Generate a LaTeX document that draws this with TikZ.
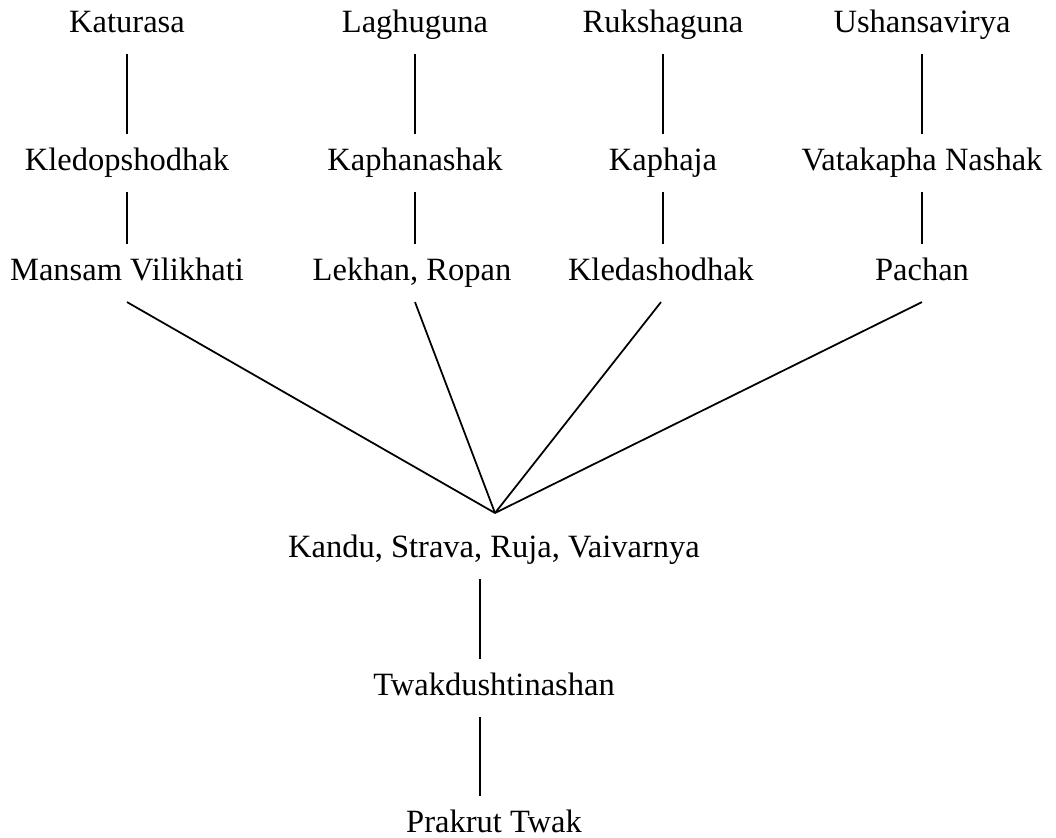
\documentclass[tikz,border=0pt]{standalone}
\usepackage{fontspec}
\setmainfont{Liberation Serif}

\begin{document}
\begin{tikzpicture}[x=0.02cm, y=-0.02cm,
	lbl/.style={font=\fontsize{18.5}{22}\selectfont, text height=12.9pt, text depth=4.6pt, inner xsep=2pt, inner ysep=7.6pt},
	edge/.style={line width=1pt}]
		%%%%% START %%%%%
		
		\useasboundingbox (0, 0) rectangle (1056, 838);
		
		\node[lbl] (katurasa) at (127, 25) {Katurasa};
		\node[lbl] (laghuguna) at (415, 25) {Laghuguna};
		\node[lbl] (rukshaguna) at (663, 25) {Rukshaguna};
		\node[lbl] (ushansavirya) at (922, 25) {Ushansavirya};
		
		\node[lbl] (kledopshodhak) at (127, 163) {Kledopshodhak};
		\node[lbl] (kaphanashak) at (415, 163) {Kaphanashak};
		\node[lbl] (kaphaja) at (663, 163) {Kaphaja};
		\node[lbl] (vatakapha) at (922, 163) {Vatakapha Nashak};
		
		\node[lbl] (mansam) at (127, 273) {Mansam Vilikhati};
		\node[lbl] (lekhan) at (412, 273) {Lekhan, Ropan};
		\node[lbl] (kledashodhak) at (661, 273) {Kledashodhak};
		\node[lbl] (pachan) at (922, 273) {Pachan};
		
		\draw[edge] (katurasa) -- (kledopshodhak);
		\draw[edge] (laghuguna) -- (kaphanashak);
		\draw[edge] (rukshaguna) -- (kaphaja);
		\draw[edge] (ushansavirya) -- (vatakapha);
		
		\draw[edge] (kledopshodhak) -- (mansam);
		\draw[edge] (kaphanashak) -- (lekhan.north -| kaphanashak.south);
		\draw[edge] (kaphaja) -- (kledashodhak.north -| kaphaja.south);
		\draw[edge] (vatakapha) -- (pachan);
		
		\coordinate (hub) at (495, 513);
		\draw[edge] (mansam.south) -- (hub);
		\draw[edge] (lekhan.south -| kaphanashak.south) -- (hub);
		\draw[edge] (kledashodhak.south) -- (hub);
		\draw[edge] (pachan.south) -- (hub);
		
		\node[lbl] (kandu) at (494, 550) {Kandu, Strava, Ruja, Vaivarnya};
		\node[lbl] (twak) at (494, 688) {Twakdushtinashan};
		\node[lbl] (prakrut) at (494, 825) {Prakrut Twak};
		
		\draw[edge] ([xshift=-7.9pt]kandu.south) -- ([xshift=-7.9pt]twak.north);
		\draw[edge] ([xshift=-7.9pt]twak.south) -- ([xshift=-7.9pt]prakrut.north);
		
		%%%%% END %%%%%
	\end{tikzpicture}
\end{document}
